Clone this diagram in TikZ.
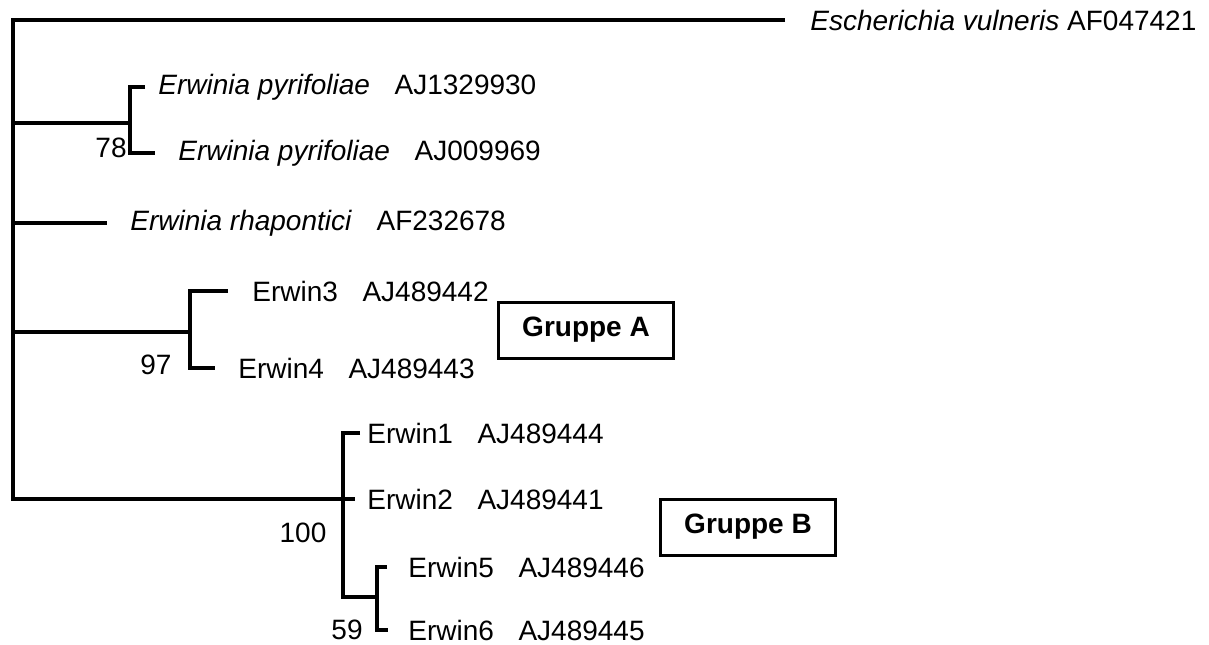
\documentclass[tikz,border=0pt]{standalone}
\usepackage{fontspec}
\setmainfont{Liberation Sans}
\usepackage{tikz}

\tikzset{
  branch/.style={line width=2.4pt, line cap=butt, line join=miter},
  leaf/.style={anchor=west, inner sep=0pt, font=\fontsize{14}{16}\selectfont},
  boot/.style={inner sep=0pt, font=\fontsize{14}{16}\selectfont},
  gruppe/.style={draw, line width=1.5pt, inner sep=0pt, minimum width=87.5pt,
    minimum height=28pt, font=\fontsize{14}{16}\selectfont\bfseries}
}

\begin{document}
\begin{tikzpicture}[x=0.5pt, y=-0.5pt]
\useasboundingbox (0,0) rectangle (1209,644);

% inner nodes
\coordinate (root) at (13,20);
\coordinate (rootb) at (13,499);
\coordinate (p) at (130,123);
\coordinate (r) at (107,223);
\coordinate (a) at (190,332);
\coordinate (b) at (343,499);
\coordinate (c) at (377,597);

% tips
\coordinate (t0) at (785,20);
\coordinate (t1) at (145,87);
\coordinate (t2) at (155,153);
\coordinate (t3) at (228,291);
\coordinate (t4) at (215,368);
\coordinate (t5) at (360,433);
\coordinate (t6) at (355,499);
\coordinate (t7) at (387,567);
\coordinate (t8) at (388,630);

% branches
\draw[branch] (t0) -- (root) -- (rootb) -- (b);
\draw[branch] (root |- p) -- (p);
\draw[branch] (root |- r) -- (r);
\draw[branch] (root |- a) -- (a);
\draw[branch] (t1) -| (p) |- (t2);
\draw[branch] (t3) -| (a) |- (t4);
\draw[branch] (t5) -| (b) |- (c);
\draw[branch] (b) -- (t6);
\draw[branch] (t7) -| (c) |- (t8);

% labels
\node[leaf] (l0) at (810,20) {\textit{Escherichia vulneris} AF047421};
\node[leaf] (l1) at (158,87) {\textit{Erwinia pyrifoliae}\hspace{0.6em} AJ1329930};
\node[leaf] (l2) at (178,153) {\textit{Erwinia pyrifoliae}\hspace{0.6em} AJ009969};
\node[leaf] (l3) at (130,223) {\textit{Erwinia rhapontici}\hspace{0.6em} AF232678};
\node[leaf] (l4) at (252,291) {Erwin3\hspace{0.6em} AJ489442};
\node[leaf] (l5) at (238,368) {Erwin4\hspace{0.6em} AJ489443};
\node[leaf] (l6) at (367,433) {Erwin1\hspace{0.6em} AJ489444};
\node[leaf] (l7) at (367,499) {Erwin2\hspace{0.6em} AJ489441};
\node[leaf] (l8) at (408,567) {Erwin5\hspace{0.6em} AJ489446};
\node[leaf] (l9) at (408,630) {Erwin6\hspace{0.6em} AJ489445};

% bootstrap
\node[boot, anchor=east] (v78) at (127,148) {78};
\node[boot] (v97) at (156,365) {97};
\node[boot] (v100) at (303,533) {100};
\node[boot] (v59) at (347,630) {59};

% groups
\node[gruppe] (ga) at (586,330) {Gruppe A};
\node[gruppe] (gb) at (748,527) {Gruppe B};
\end{tikzpicture}
\end{document}
